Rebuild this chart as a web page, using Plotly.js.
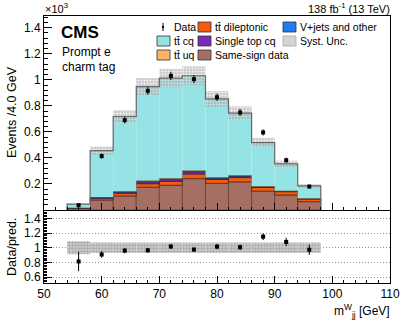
<!DOCTYPE html>
<html>
<head>
<meta charset="utf-8">
<script src="https://cdn.plot.ly/plotly-3.0.1.min.js"></script>
<style>
  html, body { margin: 0; padding: 0; background: #fff; }
  #plot { width: 407px; height: 324px; }
</style>
</head>
<body>
<div id="plot"></div>
<script>
// bin centres, 4 GeV bins from 54 to 98
var binCenters = [56, 60, 64, 68, 72, 76, 80, 84, 88, 92, 96];
var binEdges = [54, 58, 62, 66, 70, 74, 78, 82, 86, 90, 94, 98];

// stacked predictions (events per bin), bottom to top
var sameSign = [12, 77, 108, 175, 190, 241, 205, 216, 145, 115, 64];
var ttDilep = [3, 13, 20, 27, 30, 36, 30, 33, 28, 26, 21];
var singleTop = [1, 5, 9, 14, 13, 17, 8, 9, 4, 4, 2];
var vJets = [1, 3, 4, 6, 6, 6, 5, 6, 3, 2, 2];
var ttUq = [0.5, 2, 3, 4, 4, 4, 4, 3, 2, 1, 1];
var ttCq = [28, 356, 574, 722, 770, 727, 601, 477, 336, 206, 95];
var systUnc = [4, 32, 50, 66, 71, 72, 60, 52, 36, 25, 13];

var dataY = [37, 414, 690, 915, 1030, 1005, 866, 749, 596, 382, 180];
var dataErr = [6, 20, 26, 30, 32, 32, 29, 27, 24, 20, 13];

var mainTicks = [200, 400, 600, 800, 1000, 1200, 1400];
var mainTickText = ['0.2', '0.4', '0.6', '0.8', '1', '1.2', '1.4'];
var ratioTicks = [0.6, 0.8, 1, 1.2, 1.4];
var ratioTickText = ['0.6', '0.8', '1', '1.2', '1.4'];

var FONT = 'Liberation Sans, Arial, sans-serif';

// plot area in pixels
var L = 44, T = 16, W = 346, H = 267;
function px(x) { return (x - L) / W; }
function py(y) { return (T + H - y) / H; }

var components = [
    { name: 'Same-sign data', y: sameSign, color: '#a66f63', line: 'rgba(60,30,25,0.6)' },
    { name: 'tt\u0304 dileptonic', y: ttDilep, color: '#f35c0e', line: '#4a2410' },
    { name: 'Single top cq', y: singleTop, color: '#7d2bb8', line: '#3a1a55' },
    { name: 'V+jets and other', y: vJets, color: '#1f7cf0', line: '#1f2f55' },
    { name: 'tt\u0304 uq', y: ttUq, color: '#fdb366', line: '#6a4a20' },
    { name: 'tt\u0304 cq', y: ttCq, color: '#96e3e6', line: '#96e3e6' }
];

var traces = [];
var base = binCenters.map(function () { return 0; });
components.forEach(function (c) {
    traces.push({
        type: 'bar',
        x: binCenters,
        y: c.y,
        base: base.slice(),
        width: 4,
        marker: { color: c.color, line: { color: c.line, width: c.name === 'tt\u0304 cq' ? 0 : 0.8 } },
        xaxis: 'x', yaxis: 'y',
        hoverinfo: 'skip'
    });
    base = base.map(function (b, i) { return b + c.y[i]; });
});
var total = base;

// syst band on main panel
traces.push({
    type: 'bar',
    x: binCenters,
    y: systUnc.map(function (s) { return 2 * s; }),
    base: total.map(function (t, i) { return t - systUnc[i]; }),
    width: 4,
    opacity: 0.6,
    marker: {
        color: '#b8b8b8',
        line: { width: 0 },
        pattern: { shape: '.', bgcolor: '#a8a8a8', fgcolor: '#f0f0f0', size: 3, solidity: 0.35, fillmode: 'replace' }
    },
    xaxis: 'x', yaxis: 'y', hoverinfo: 'skip'
});

// total outline as step line
var stepX = [binEdges[0]];
var stepY = [0];
for (var i = 0; i < total.length; i++) {
    stepX.push(binEdges[i]);
    stepY.push(total[i]);
}
stepX.push(binEdges[binEdges.length - 1], binEdges[binEdges.length - 1]);
stepY.push(total[total.length - 1], 0);
traces.push({
    type: 'scatter', mode: 'lines', x: stepX, y: stepY,
    line: { shape: 'hv', color: '#666', width: 1.2 },
    xaxis: 'x', yaxis: 'y', hoverinfo: 'skip'
});

// data
traces.push({
    type: 'scatter', mode: 'markers', x: binCenters, y: dataY,
    error_y: { type: 'data', array: dataErr, color: '#000', thickness: 1, width: 0 },
    marker: { color: '#000', size: 4, symbol: 'square' },
    xaxis: 'x', yaxis: 'y', hoverinfo: 'skip'
});

// ratio panel
var ratio = dataY.map(function (d, i) { return d / total[i]; });
var ratioErr = dataErr.map(function (e, i) { return e / total[i]; });
var relSyst = systUnc.map(function (s, i) { return s / total[i]; });

traces.push({
    type: 'bar',
    x: binCenters,
    y: relSyst.map(function (r) { return 2 * r; }),
    base: relSyst.map(function (r) { return 1 - r; }),
    width: 4,
    marker: {
        color: '#c4c4c4',
        line: { width: 0 },
        pattern: { shape: '+', bgcolor: '#c8c8c8', fgcolor: '#a0a0a0', size: 3, solidity: 0.3, fillmode: 'replace' }
    },
    xaxis: 'x2', yaxis: 'y2', hoverinfo: 'skip'
});
traces.push({
    type: 'scatter', mode: 'markers', x: binCenters, y: ratio,
    error_y: { type: 'data', array: ratioErr, color: '#000', thickness: 1, width: 0 },
    marker: { color: '#000', size: 4, symbol: 'square' },
    xaxis: 'x2', yaxis: 'y2', hoverinfo: 'skip'
});

// legend drawn by hand
var shapes = [];
var annotations = [];
var legendRows = [27, 41, 55];
var legendItems = [
    { col: 157, row: 0, label: 'Data', marker: true },
    { col: 157, row: 1, label: 'tt\u0304 cq', color: '#96e3e6' },
    { col: 157, row: 2, label: 'tt\u0304 uq', color: '#fdb366' },
    { col: 198, row: 0, label: 'tt\u0304 dileptonic', color: '#f35c0e' },
    { col: 198, row: 1, label: 'Single top cq', color: '#7d2bb8' },
    { col: 198, row: 2, label: 'Same-sign data', color: '#a66f63' },
    { col: 283, row: 0, label: 'V+jets and other', color: '#1f7cf0' },
    { col: 283, row: 1, label: 'Syst. Unc.', color: '#d4d4d4', border: '#aaa' }
];
legendItems.forEach(function (it) {
    var yc = legendRows[it.row];
    if (it.marker) {
        shapes.push({ type: 'rect', xref: 'paper', yref: 'paper',
            x0: px(it.col + 5), x1: px(it.col + 7), y0: py(yc + 1), y1: py(yc - 1),
            fillcolor: '#000', line: { width: 0 } });
        shapes.push({ type: 'line', xref: 'paper', yref: 'paper',
            x0: px(it.col + 6), x1: px(it.col + 6), y0: py(yc + 4), y1: py(yc - 4),
            line: { color: '#000', width: 1 } });
    } else {
        shapes.push({ type: 'rect', xref: 'paper', yref: 'paper',
            x0: px(it.col), x1: px(it.col + 13), y0: py(yc + 5), y1: py(yc - 5),
            fillcolor: it.color, line: { color: it.border || '#333', width: 0.8 } });
    }
    annotations.push({ xref: 'paper', yref: 'paper', x: px(it.col + 15), y: py(yc),
        xanchor: 'left', yanchor: 'middle', showarrow: false, text: it.label,
        font: { family: FONT, size: 10.5, color: '#000' } });
});

annotations.push(
    { xref: 'paper', yref: 'paper', x: px(43), y: py(8), xanchor: 'left', yanchor: 'middle',
      showarrow: false, text: '\u00d710<sup>3</sup>', font: { family: FONT, size: 11, color: '#000' } },
    { xref: 'paper', yref: 'paper', x: px(59), y: py(32), xanchor: 'left', yanchor: 'middle',
      showarrow: false, text: '<b>CMS</b>', font: { family: FONT, size: 17, color: '#000' } },
    { xref: 'paper', yref: 'paper', x: px(60), y: py(52), xanchor: 'left', yanchor: 'middle',
      showarrow: false, text: 'Prompt e', font: { family: FONT, size: 12, color: '#000' } },
    { xref: 'paper', yref: 'paper', x: px(60), y: py(67), xanchor: 'left', yanchor: 'middle',
      showarrow: false, text: 'charm tag', font: { family: FONT, size: 12, color: '#000' } },
    { xref: 'paper', yref: 'paper', x: px(392), y: py(8), xanchor: 'right', yanchor: 'middle',
      showarrow: false, text: '138 fb<sup>-1</sup> (13 TeV)', font: { family: FONT, size: 11, color: '#000' } },
    { xref: 'paper', yref: 'paper', x: px(392), y: py(311), xanchor: 'right', yanchor: 'middle',
      showarrow: false, text: 'm<sup>W</sup><sub>jj</sub> [GeV]', font: { family: FONT, size: 12, color: '#000' } },
    { xref: 'paper', yref: 'paper', x: px(12), y: py(112), xanchor: 'center', yanchor: 'middle',
      showarrow: false, textangle: -90, text: 'Events /4.0 GeV', font: { family: FONT, size: 12.5, color: '#000' } },
    { xref: 'paper', yref: 'paper', x: px(12), y: py(247), xanchor: 'center', yanchor: 'middle',
      showarrow: false, textangle: -90, text: 'Data/pred.', font: { family: FONT, size: 12.5, color: '#000' } }
);

var axisCommon = {
    showline: true, linecolor: '#000', linewidth: 1, mirror: true,
    ticks: 'inside', tickcolor: '#000', zeroline: false, showgrid: false,
    tickfont: { family: FONT, size: 12, color: '#000' }
};

var layout = {
    width: 407, height: 324,
    margin: { l: L, r: 407 - L - W, t: T, b: 324 - T - H, pad: 0 },
    barmode: 'overlay',
    showlegend: false,
    plot_bgcolor: '#fff', paper_bgcolor: '#fff',
    xaxis: Object.assign({}, axisCommon, {
        range: [50, 110], domain: [0, 1], anchor: 'y', showticklabels: false,
        dtick: 10, ticklen: 7, minor: { dtick: 2, ticklen: 3, ticks: 'inside', tickcolor: '#000' }
    }),
    yaxis: Object.assign({}, axisCommon, {
        range: [0, 1490], domain: [(T + H - 210) / H, 1], anchor: 'x',
        tickmode: 'array', tickvals: mainTicks, ticktext: mainTickText, ticklen: 8,
        minor: { dtick: 40, ticklen: 4, ticks: 'inside', tickcolor: '#000' }
    }),
    xaxis2: Object.assign({}, axisCommon, {
        range: [50, 110], domain: [0, 1], anchor: 'y2', matches: 'x',
        dtick: 10, ticklen: 7, minor: { dtick: 2, ticklen: 3, ticks: 'inside', tickcolor: '#000' }
    }),
    yaxis2: Object.assign({}, axisCommon, {
        range: [0.52, 1.5], domain: [0, (T + H - 211) / H], anchor: 'x2',
        tickmode: 'array', tickvals: ratioTicks, ticktext: ratioTickText, ticklen: 8,
        showgrid: true, gridcolor: '#777', gridwidth: 0.8, griddash: '1px,2px',
        minor: { dtick: 0.02, ticklen: 3, ticks: 'inside', tickcolor: '#000' }
    }),
    shapes: shapes,
    annotations: annotations
};

Plotly.newPlot('plot', traces, layout, { displayModeBar: false, staticPlot: true });
</script>
</body>
</html>
